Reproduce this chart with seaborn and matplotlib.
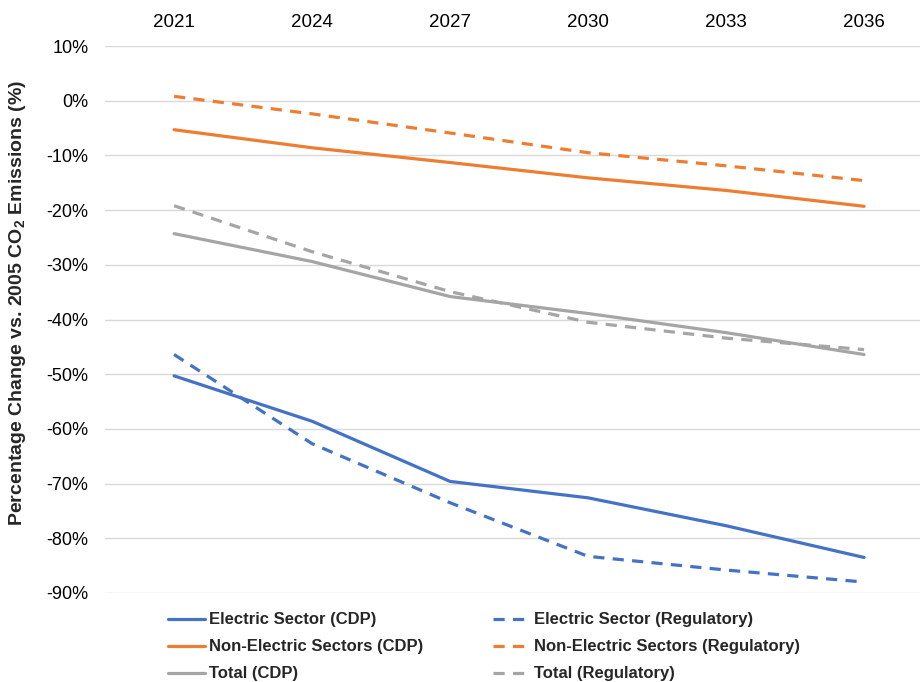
import matplotlib
matplotlib.use("Agg")
import matplotlib.pyplot as plt
import matplotlib.ticker as mticker
import pandas as pd
import seaborn as sns

years = [2021, 2024, 2027, 2030, 2033, 2036]

electric_cdp = [-50.3, -58.6, -69.6, -72.6, -77.7, -83.5]
electric_reg = [-46.4, -62.7, -73.5, -83.3, -85.8, -88.0]
non_electric_cdp = [-5.3, -8.6, -11.3, -14.1, -16.4, -19.3]
non_electric_reg = [0.8, -2.4, -5.9, -9.5, -11.9, -14.6]
total_cdp = [-24.3, -29.4, -35.8, -38.9, -42.4, -46.4]
total_reg = [-19.2, -27.6, -34.9, -40.5, -43.4, -45.5]

series = [
    ("Electric Sector (CDP)", electric_cdp, "#4472C4", False),
    ("Non-Electric Sectors (CDP)", non_electric_cdp, "#ED7D31", False),
    ("Total (CDP)", total_cdp, "#A5A5A5", False),
    ("Electric Sector (Regulatory)", electric_reg, "#4472C4", True),
    ("Non-Electric Sectors (Regulatory)", non_electric_reg, "#ED7D31", True),
    ("Total (Regulatory)", total_reg, "#A5A5A5", True),
]

sns.set_theme(style="white")
plt.rcParams["font.family"] = ["Liberation Sans", "DejaVu Sans"]
plt.rcParams["mathtext.fontset"] = "custom"
plt.rcParams["mathtext.rm"] = "Liberation Sans"
plt.rcParams["mathtext.bf"] = "Liberation Sans:bold"

fig = plt.figure(figsize=(9.22, 6.82), dpi=100)
ax = fig.add_axes([0.114, 0.1305, 0.884, 0.802])

for name, values, color, dashed in series:
    df = pd.DataFrame({"year": years, "value": values})
    line_ax = sns.lineplot(data=df, x="year", y="value", ax=ax, color=color,
                           linewidth=2.3, label=name)
    if dashed:
        line_ax.lines[-1].set_dashes((3.5, 2.6))

ax.set_xlim(2019.5, 2037.22)
ax.set_ylim(-90, 10)
ax.set_xticks(years)
ax.set_yticks(range(-90, 11, 10))
ax.yaxis.set_major_formatter(mticker.FuncFormatter(lambda v, _: f"{v:.0f}%"))
ax.xaxis.tick_top()
ax.tick_params(axis="x", length=0, pad=11, labelsize=13.5, colors="#000000")
ax.tick_params(axis="y", length=0, pad=12, labelsize=13, colors="#000000")
ax.grid(axis="y", color="#D9D9D9", linewidth=1)
ax.grid(axis="x", visible=False)
for spine in ax.spines.values():
    spine.set_visible(False)
ax.set_xlabel("")
ax.set_ylabel(r"Percentage Change vs. 2005 CO$_\mathbf{2}$ Emissions (%)",
              fontsize=14, fontweight="bold")
ax.yaxis.set_label_coords(-0.095, 0.53)

ax.get_legend().remove()
handles, labels = ax.get_legend_handles_labels()
fig.legend(handles, labels, loc="upper left", bbox_to_anchor=(0.166, 0.124),
           ncol=2, frameon=False, handlelength=2.2, handletextpad=0.25,
           columnspacing=4.2, labelspacing=0.72,
           prop={"weight": "bold", "size": 12})

fig.savefig("out.png", dpi=100)
